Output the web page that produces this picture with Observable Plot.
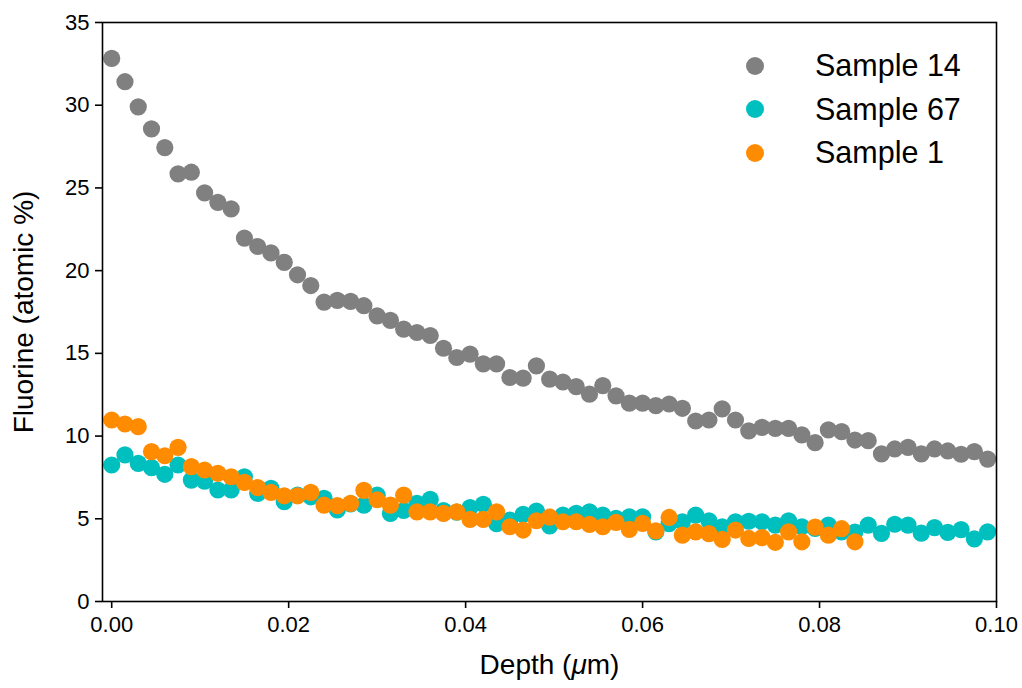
<!DOCTYPE html>
<html><head><meta charset="utf-8">
<script src="https://cdn.jsdelivr.net/npm/d3@7"></script>
<script src="https://cdn.jsdelivr.net/npm/@observablehq/plot@0.6"></script>
<style>
body{margin:0;background:#fff;}
#wrap{position:relative;width:1022px;height:688px;font-family:"Liberation Sans",Arial,sans-serif;}
#legend{position:absolute;left:746px;top:44px;}
.row{display:flex;align-items:center;height:43.5px;font-size:30.5px;color:#000;}
.sw{width:18px;height:18px;border-radius:50%;margin-left:0px;margin-right:51px;}
</style></head><body><div id="wrap"></div>
<script>
const depth = [0,0.0015,0.003,0.0045,0.006,0.0075,0.009,0.0105,0.012,0.0135,0.015,0.0165,0.018,0.0195,0.021,0.0225,0.024,0.0255,0.027,0.0285,0.03,0.0315,0.033,0.0345,0.036,0.0375,0.039,0.0405,0.042,0.0435,0.045,0.0465,0.048,0.0495,0.051,0.0525,0.054,0.0555,0.057,0.0585,0.06,0.0615,0.063,0.0645,0.066,0.0675,0.069,0.0705,0.072,0.0735,0.075,0.0765,0.078,0.0795,0.081,0.0825,0.084,0.0855,0.087,0.0885,0.09,0.0915,0.093,0.0945,0.096,0.0975,0.099];
const sample14 = [32.83,31.42,29.90,28.57,27.44,25.85,25.95,24.70,24.13,23.73,21.97,21.46,21.07,20.50,19.75,19.10,18.10,18.20,18.14,17.88,17.27,16.99,16.46,16.26,16.08,15.31,14.75,14.95,14.36,14.36,13.54,13.50,14.24,13.44,13.27,12.99,12.53,13.05,12.43,11.99,11.99,11.84,11.94,11.68,10.91,10.97,11.64,10.97,10.31,10.53,10.47,10.47,10.07,9.60,10.37,10.27,9.76,9.72,8.92,9.22,9.32,8.92,9.22,9.10,8.90,9.06,8.61];
const sample67 = [8.25,8.86,8.35,8.09,7.69,8.25,7.34,7.28,6.74,6.74,7.54,6.54,6.84,6.03,6.43,6.33,6.23,5.53,5.90,5.83,6.43,5.33,5.50,5.93,6.17,5.50,5.40,5.68,5.88,4.70,4.92,5.27,5.47,4.57,5.22,5.33,5.42,5.22,5.02,5.12,5.12,4.20,4.70,4.82,5.22,4.87,4.52,4.82,4.85,4.82,4.62,4.88,4.52,4.42,4.62,4.21,4.20,4.62,4.12,4.67,4.62,4.13,4.47,4.18,4.34,3.78,4.21];
const sample1 = [10.97,10.73,10.57,9.06,8.81,9.32,8.15,7.95,7.75,7.54,7.20,6.88,6.60,6.39,6.39,6.60,5.83,5.80,5.93,6.72,6.15,5.83,6.43,5.42,5.42,5.33,5.42,4.96,4.96,5.42,4.52,4.32,4.88,5.10,4.82,4.82,4.66,4.52,4.78,4.36,4.72,4.27,5.08,4.01,4.21,4.10,3.76,4.32,3.81,3.86,3.58,4.21,3.61,4.50,4.01,4.40,3.61];
const seriesNames = ["Sample 14","Sample 67","Sample 1"];
const seriesColors = ["#808080","#00bfbf","#ff8c00"];
const xTicks = [0,0.02,0.04,0.06,0.08,0.10];
const yTicks = [0,5,10,15,20,25,30,35];

const seriesValues = [sample14, sample67, sample1];
const rows = [];
seriesValues.forEach((vals, s) => vals.forEach((v, i) => rows.push({depth: depth[i], value: v, sample: seriesNames[s]})));

const chart = Plot.plot({
  width: 1022,
  height: 688,
  marginLeft: 102,
  marginRight: 26,
  marginTop: 22,
  marginBottom: 87,
  style: {fontFamily: "'Liberation Sans', Arial, sans-serif", fontSize: "22px", color: "#000", background: "#fff"},
  x: {domain: [-0.00104, 0.1]},
  y: {domain: [0, 35]},
  color: {domain: seriesNames, range: seriesColors},
  marks: [
    Plot.dot(rows, {x: "depth", y: "value", fill: "sample", r: 8.6, stroke: "none"}),
    Plot.frame({stroke: "#000", strokeWidth: 1.6}),
    Plot.axisX({ticks: xTicks, tickFormat: d3.format(".2f"), tickSize: 7, strokeWidth: 1.6, tickPadding: 8, fontSize: 22,
      label: "Depth (μm)", labelAnchor: "center", labelArrow: "none", labelOffset: 72}),
    Plot.axisY({ticks: yTicks, tickSize: 7, strokeWidth: 1.6, tickPadding: 6, fontSize: 22,
      label: "Fluorine (atomic %)", labelAnchor: "center", labelArrow: "none", labelOffset: 89})
  ]
});
const wrap = document.getElementById("wrap");
wrap.appendChild(chart);

// italic mu in x label
d3.select(chart).selectAll('g[aria-label="x-axis label"] text').each(function() {
  const t = d3.select(this);
  t.text(null);
  t.append("tspan").text("Depth (");
  t.append("tspan").attr("font-style", "italic").text("μ");
  t.append("tspan").text("m)");
});
d3.select(chart).selectAll('g[aria-label="x-axis label"], g[aria-label="y-axis label"]').attr("font-size", 28);

const legend = document.createElement("div");
legend.id = "legend";
seriesNames.forEach((n, i) => {
  const r = document.createElement("div");
  r.className = "row";
  const sw = document.createElement("div");
  sw.className = "sw";
  sw.style.background = seriesColors[i];
  r.appendChild(sw);
  r.appendChild(document.createTextNode(n));
  legend.appendChild(r);
});
wrap.appendChild(legend);
</script></body></html>
